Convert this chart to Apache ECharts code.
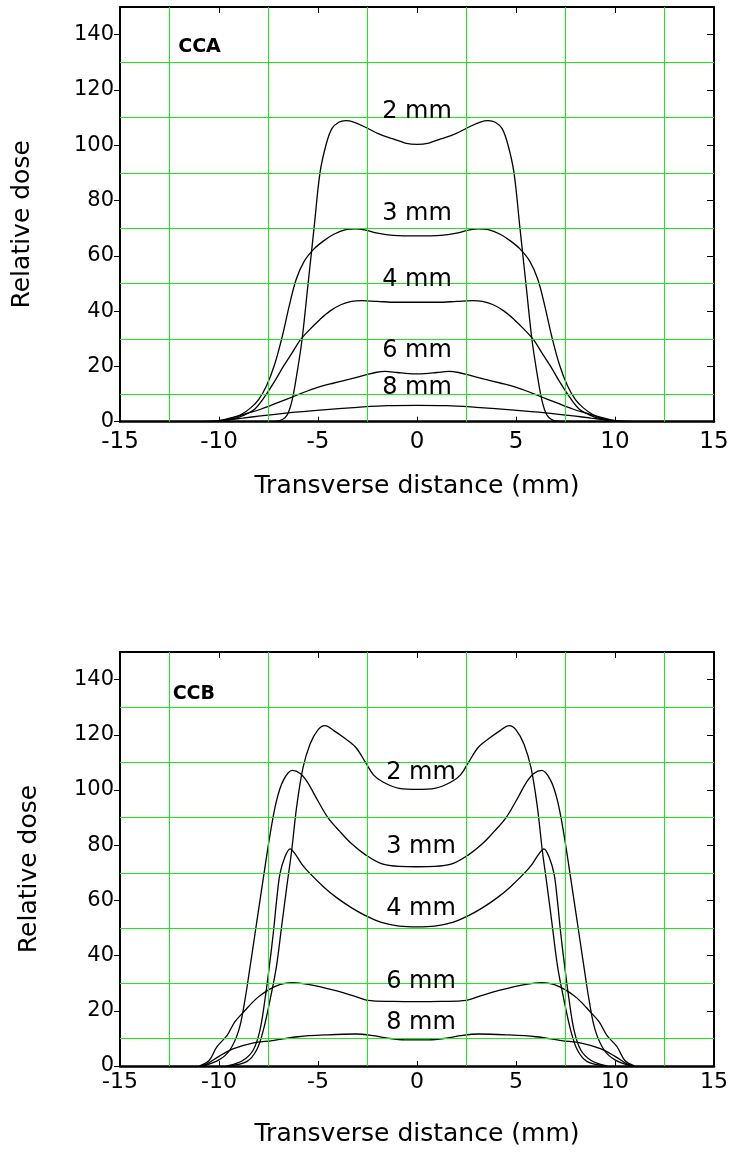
<!DOCTYPE html>
<html><head><meta charset="utf-8">
<script src="https://cdn.jsdelivr.net/npm/echarts@6/dist/echarts.min.js"></script>
<style>html,body{margin:0;padding:0;background:#fff}#c{width:733px;height:1153px}</style>
</head><body><div id="c"></div>
<script>
// ---- data ----
const xTicks = [-15, -10, -5, 0, 5, 10, 15];
const yTicks = [0, 20, 40, 60, 80, 100, 120, 140];
const gridXValues = [-12.5, -7.5, -2.5, 2.5, 7.5, 12.5];
const gridYValues = [10, 30, 50, 70, 90, 110, 130];
const curveNames = ['2 mm', '3 mm', '4 mm', '6 mm', '8 mm'];
const panelTitles = ['CCA', 'CCB'];
const panelTitleX = [-12.06, -12.34];
const panelTitleY = [135.5, 134.9];

const cca2 = [[-7.2,0],[-6.8,0.8],[-6.55,2.5],[-6.3,8],[-6.05,18],[-5.8,30],[-5.5,50],[-5.2,70],[-4.9,90],[-4.6,100],[-4.3,106],[-3.95,108.3],[-3.6,108.9],[-3.2,108.4],[-2.6,106.5],[-1.9,104],[-1.2,102.3],[-0.6,100.8],[0,100.3],
  [0.6,100.8],[1.2,102.3],[1.9,104],[2.6,106.5],[3.2,108.4],[3.6,108.9],[3.95,108.3],[4.3,106],[4.6,100],[4.9,90],[5.2,70],[5.5,50],[5.8,30],[6.05,18],[6.3,8],[6.55,2.5],[6.8,0.8],[7.2,0]];
const cca3 = [[-10,0],[-9.4,1],[-8.9,2.5],[-8.4,5],[-8.0,8],[-7.6,13],[-7.2,20.5],[-6.8,31],[-6.45,42],[-6.1,51.5],[-5.7,58],[-5.2,62.5],[-4.7,65.5],[-4.2,67.8],[-3.6,69.5],[-3.1,69.8],[-2.6,69.3],[-2.0,68.2],[-1.2,67.4],[0,67.2],
  [1.2,67.4],[2.0,68.2],[2.6,69.3],[3.1,69.8],[3.6,69.5],[4.2,67.8],[4.7,65.5],[5.2,62.5],[5.7,58],[6.1,51.5],[6.45,42],[6.8,31],[7.2,20.5],[7.6,13],[8.0,8],[8.4,5],[8.9,2.5],[9.4,1],[10,0]];
const cca4 = [[-10.2,0],[-9.3,1],[-8.7,2.5],[-8.2,4.5],[-7.7,9],[-7.2,14.5],[-6.75,20],[-6.3,25],[-5.9,29.5],[-5.4,33.5],[-4.9,37],[-4.4,40],[-3.85,42.3],[-3.3,43.5],[-2.8,43.8],[-2.0,43.5],[-1.0,43.2],[0,43.2],
  [1.0,43.2],[2.0,43.5],[2.8,43.8],[3.3,43.5],[3.85,42.3],[4.4,40],[4.9,37],[5.4,33.5],[5.9,29.5],[6.3,25],[6.75,20],[7.2,14.5],[7.7,9],[8.2,4.5],[8.7,2.5],[9.3,1],[10.2,0]];
const cca6 = [[-10.5,0],[-10.0,0.4],[-9.3,1.6],[-8.6,3],[-7.9,4.5],[-7.0,7],[-6.2,9.2],[-5.5,11.2],[-4.9,12.7],[-4.2,14],[-3.4,15.4],[-2.6,16.9],[-2.1,17.8],[-1.6,18.2],[-1.0,17.8],[-0.4,17.4],[0,17.3],
  [0.4,17.4],[1.0,17.8],[1.6,18.2],[2.1,17.8],[2.6,16.9],[3.4,15.4],[4.2,14],[4.9,12.7],[5.5,11.2],[6.2,9.2],[7.0,7],[7.9,4.5],[8.6,3],[9.3,1.6],[10.0,0.4],[10.5,0]];
const cca8 = [[-11,0],[-9.8,0.5],[-8.8,1.3],[-7.9,2.1],[-6.5,3.2],[-4.9,4.2],[-3.0,5.2],[-1.5,5.8],[0,5.9],
  [1.5,5.8],[3.0,5.2],[4.9,4.2],[6.5,3.2],[7.9,2.1],[8.8,1.3],[9.8,0.5],[11,0]];

const ccb2 = [[-9.6,0],[-8.6,1.6],[-8.1,5.8],[-7.76,13],[-7.42,24],[-7.1,36],[-6.84,50.4],[-6.58,64.8],[-6.33,78],[-6.08,93.8],[-5.76,108],[-5.4,116.7],[-5.0,121.8],[-4.65,123.3],[-4.2,121.5],[-3.7,119],[-3.1,115.5],[-2.6,110],[-2.2,105.5],[-1.7,102.8],[-0.9,100.6],[0,100.2],
  [0.9,100.6],[1.7,102.8],[2.2,105.5],[2.6,110],[3.1,115.5],[3.7,119],[4.2,121.5],[4.65,123.3],[5.0,121.8],[5.4,116.7],[5.76,108],[6.08,93.8],[6.33,78],[6.58,64.8],[6.84,50.4],[7.1,36],[7.42,24],[7.76,13],[8.1,5.8],[8.6,1.6],[9.6,0]];
const ccb3 = [[-10.8,0],[-10.0,2.2],[-9.45,5.8],[-9.0,13],[-8.7,23.5],[-8.43,36],[-8.18,48],[-7.93,60],[-7.68,72],[-7.43,83.5],[-7.1,96],[-6.75,103.5],[-6.3,107.1],[-5.9,106],[-5.55,103],[-5.0,96],[-4.5,90],[-3.9,85],[-3.3,80.5],[-2.6,76.5],[-1.8,73.3],[-0.9,72.3],[0,72.2],
  [0.9,72.3],[1.8,73.3],[2.6,76.5],[3.3,80.5],[3.9,85],[4.5,90],[5.0,96],[5.55,103],[5.9,106],[6.3,107.1],[6.75,103.5],[7.1,96],[7.43,83.5],[7.68,72],[7.93,60],[8.18,48],[8.43,36],[8.7,23.5],[9.0,13],[9.45,5.8],[10.0,2.2],[10.8,0]];
const ccb4 = [[-9.6,0],[-8.8,2],[-8.27,5.8],[-7.93,13],[-7.68,24],[-7.46,36],[-7.26,48],[-7.09,60],[-6.92,69.7],[-6.67,75.7],[-6.41,78.7],[-6.15,76.8],[-5.8,73],[-5.4,69.7],[-4.7,64.8],[-4.06,61],[-3.3,57.3],[-2.6,54.5],[-1.8,52],[-0.9,50.7],[0,50.4],
  [0.9,50.7],[1.8,52],[2.6,54.5],[3.3,57.3],[4.06,61],[4.7,64.8],[5.4,69.7],[5.8,73],[6.15,76.8],[6.41,78.7],[6.67,75.7],[6.92,69.7],[7.09,60],[7.26,48],[7.46,36],[7.68,24],[7.93,13],[8.27,5.8],[8.8,2],[9.6,0]];
const ccb6 = [[-11,0],[-10.5,2],[-10.1,7],[-9.6,11],[-9.2,16],[-8.7,20],[-8.1,24.5],[-7.5,27.6],[-6.9,29.6],[-6.3,30.2],[-5.5,29.6],[-4.2,27.5],[-3.2,25.4],[-2.5,23.8],[-1.2,23.4],[0,23.3],
  [1.2,23.4],[2.5,23.8],[3.2,25.4],[4.2,27.5],[5.5,29.6],[6.3,30.2],[6.9,29.6],[7.5,27.6],[8.1,24.5],[8.7,20],[9.2,16],[9.6,11],[10.1,7],[10.5,2],[11,0]];
const ccb8 = [[-11,0],[-10.6,0.8],[-10.0,3.5],[-9.3,6.2],[-8.3,8.3],[-7.3,9.2],[-6.0,10.6],[-4.5,11.3],[-3.1,11.6],[-2.2,11.0],[-1.4,10.0],[-0.6,9.5],[0,9.5],
  [0.6,9.5],[1.4,10.0],[2.2,11.0],[3.1,11.6],[4.5,11.3],[6.0,10.6],[7.3,9.2],[8.3,8.3],[9.3,6.2],[10.0,3.5],[10.6,0.8],[11,0]];

const ccaLabelX = [0, 0, 0, 0, 0];
const ccaLabelY = [112.0, 75.3, 51.3, 25.5, 12.1];
const ccbLabelX = [0.2, 0.2, 0.2, 0.2, 0.2];
const ccbLabelY = [106.4, 79.3, 57.0, 30.5, 15.6];

// ---- chart ----
const FONT = 'DejaVu Sans';
const GRIDC = '#1aea1a';
const chart = echarts.init(document.getElementById('c'), null, {renderer: 'canvas'});

const grids = [
  {left: 120, top: 7, width: 594, height: 414.7},
  {left: 120, top: 652, width: 594, height: 414}
];
const xLabelSize = [23, 22];
const xLabelMargin = [9, 5.5];
const xNameGap = [52, 56];
const yNameGap = [85, 78];

const xAxes = [], yAxes = [];
grids.forEach((g, i) => {
  xAxes.push({
    type: 'value', gridIndex: i, position: 'bottom', min: -15, max: 15, interval: 5,
    axisLine: {show: true, onZero: false, lineStyle: {color: '#000', width: 2.5}},
    axisTick: {show: true, inside: true, length: 5, lineStyle: {color: '#000', width: 1}},
    axisLabel: {show: true, fontFamily: FONT, fontSize: xLabelSize[i], color: '#000', margin: xLabelMargin[i], showMinLabel: true, showMaxLabel: true,
      formatter: v => (xTicks.indexOf(v) >= 0 ? String(v) : '')},
    splitLine: {show: false},
    name: 'Transverse distance (mm)', nameLocation: 'middle', nameGap: xNameGap[i],
    nameTextStyle: {fontFamily: FONT, fontSize: 25, color: '#000'}
  });
  xAxes.push({
    type: 'value', gridIndex: i, position: 'top', min: -15, max: 15, interval: 5,
    axisLine: {show: true, onZero: false, lineStyle: {color: '#000', width: 1.8}},
    axisTick: {show: true, inside: true, length: 6, lineStyle: {color: '#000', width: 1}},
    axisLabel: {show: false},
    splitLine: {show: false}
  });
  yAxes.push({
    type: 'value', gridIndex: i, position: 'left', min: 0, max: 150, interval: 20,
    axisLine: {show: true, onZero: false, lineStyle: {color: '#000', width: 2}},
    axisTick: {show: true, inside: false, length: 6, lineStyle: {color: '#000', width: 1}, customValues: yTicks},
    axisLabel: {show: true, fontFamily: FONT, fontSize: 21, color: '#000', margin: 6, customValues: yTicks,
      formatter: v => (yTicks.indexOf(v) >= 0 ? String(v) : '')},
    splitLine: {show: false},
    name: 'Relative dose', nameLocation: 'middle', nameGap: yNameGap[i], nameRotate: 90,
    nameTextStyle: {fontFamily: FONT, fontSize: 25, color: '#000', padding: [0, 20, 0, 0]}
  });
  yAxes.push({
    type: 'value', gridIndex: i, position: 'right', min: 0, max: 150, interval: 10,
    axisLine: {show: true, onZero: false, lineStyle: {color: '#000', width: 2}},
    axisTick: {show: true, inside: true, length: 7, lineStyle: {color: '#000', width: 1}},
    axisLabel: {show: false},
    splitLine: {show: false}
  });
});

const panels = [
  {curves: [cca2, cca3, cca4, cca6, cca8], lx: ccaLabelX, ly: ccaLabelY},
  {curves: [ccb2, ccb3, ccb4, ccb6, ccb8], lx: ccbLabelX, ly: ccbLabelY}
];
const series = [];
panels.forEach((p, i) => {
  // green grid lines
  series.push({
    type: 'line', xAxisIndex: i * 2, yAxisIndex: i * 2, data: [], silent: true, z: 1,
    markLine: {
      silent: true, symbol: ['none', 'none'], animation: false,
      label: {show: false},
      lineStyle: {color: GRIDC, width: 1, type: 'solid', opacity: 1},
      emphasis: {disabled: true},
      data: gridXValues.map(v => ({xAxis: v})).concat(gridYValues.map(v => ({yAxis: v})))
    }
  });
  p.curves.forEach((c, k) => {
    series.push({
      type: 'line', name: panelTitles[i] + ' ' + curveNames[k], xAxisIndex: i * 2, yAxisIndex: i * 2,
      data: c, showSymbol: false, smooth: 0.35, silent: true,
      lineStyle: {color: '#000', width: 1.3}, z: 3
    });
  });
  series.push({
    type: 'scatter', xAxisIndex: i * 2, yAxisIndex: i * 2, symbolSize: 0, silent: true, z: 5,
    itemStyle: {color: '#000'},
    data: curveNames.map((n, k) => [p.lx[k], p.ly[k], n]),
    label: {show: true, position: 'inside', formatter: q => q.data[2], fontFamily: FONT, fontSize: 24, color: '#000', opacity: 1}
  });
  series.push({
    type: 'scatter', xAxisIndex: i * 2, yAxisIndex: i * 2, symbolSize: 0, silent: true, z: 5,
    itemStyle: {color: '#000'},
    data: [[panelTitleX[i], panelTitleY[i], panelTitles[i]]],
    label: {show: true, position: 'right', distance: 0, formatter: q => q.data[2], fontFamily: FONT, fontSize: 19, fontWeight: 'bold', color: '#000', opacity: 1}
  });
});

chart.setOption({
  backgroundColor: '#fff',
  animation: false,
  grid: grids,
  xAxis: xAxes,
  yAxis: yAxes,
  series: series
});
</script>
</body></html>
